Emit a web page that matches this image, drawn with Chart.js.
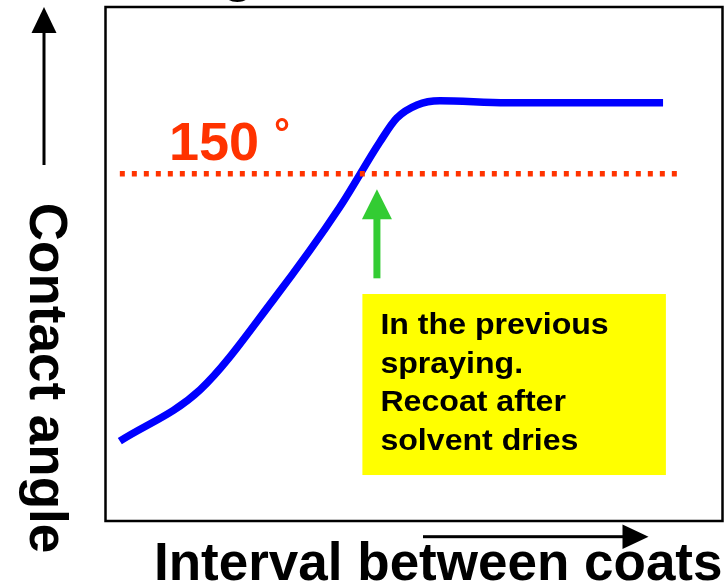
<!DOCTYPE html>
<html lang="en">
<head>
    <meta charset="UTF-8">
    <title>Contact angle vs interval between coats</title>
    <script src="https://cdn.jsdelivr.net/npm/chart.js"></script>
    <style>
        body {
            margin: 0;
            background: #ffffff;
        }
        .chart-box {
            width: 728px;
            height: 587px;
        }
    </style>
</head>
<body>
    <div class="chart-box">
        <canvas id="angleChart" width="728" height="587"></canvas>
    </div>

    <script>
        // Curve (interval in arbitrary units, angle in degrees)
        const intervalX = [0.24, 1.54, 2.72, 3.80, 4.45, 4.72, 5.05, 5.42, 6.50, 9.03];
        const contactAngle = [111.5, 118.9, 131.8, 145.2, 154.6, 158.0, 159.9, 160.5, 160.2, 160.2];

        // 150 degree reference line
        const thresholdX = [0.24, 9.30];
        const thresholdAngle = [150, 150];

        const xRange = [0, 10];
        const yRange = [100, 174];

        const noteLines = ['In the previous', 'spraying.', 'Recoat after', 'solvent dries'];

        const FONT = '"Liberation Sans", Arial, sans-serif';

        function toPoints(xs, ys) {
            return xs.map((x, i) => ({ x: x, y: ys[i] }));
        }

        // frame, arrows, labels and the note box
        const decorations = {
            id: 'decorations',
            afterDraw(chart) {
                const ctx = chart.ctx;
                const area = chart.chartArea;
                const xs = chart.scales.x;
                const ys = chart.scales.y;
                ctx.save();

                // box round the plot
                ctx.strokeStyle = '#000000';
                ctx.lineWidth = 2.5;
                ctx.strokeRect(area.left + 0.5, area.top, area.right - area.left - 1, area.bottom - area.top);

                // green arrow pointing at the crossing
                const ax = xs.getPixelForValue(4.40);
                const tipY = ys.getPixelForValue(147.75);
                const baseY = tipY + 30;
                const tailY = ys.getPixelForValue(134.94);
                ctx.fillStyle = '#33cc33';
                ctx.fillRect(ax - 3.5, baseY - 1, 7, tailY - baseY + 1);
                ctx.beginPath();
                ctx.moveTo(ax, tipY);
                ctx.lineTo(ax - 15, baseY);
                ctx.lineTo(ax + 15, baseY);
                ctx.closePath();
                ctx.fill();

                // yellow note
                const bx1 = xs.getPixelForValue(4.165);
                const bx2 = xs.getPixelForValue(9.076);
                const by1 = ys.getPixelForValue(132.68);
                const by2 = ys.getPixelForValue(106.62);
                ctx.fillStyle = '#ffff00';
                ctx.fillRect(bx1, by1, bx2 - bx1, by2 - by1);
                ctx.fillStyle = '#000000';
                ctx.font = 'bold 30px ' + FONT;
                ctx.textAlign = 'left';
                ctx.textBaseline = 'alphabetic';
                noteLines.forEach((line, i) => {
                    ctx.save();
                    ctx.translate(bx1 + 18, by1 + 40 + i * 38.5);
                    ctx.scale(1.07, 1);
                    ctx.fillText(line, 0, 0);
                    ctx.restore();
                });

                // 150 degree label
                ctx.fillStyle = '#ff3300';
                ctx.font = 'bold 54px ' + FONT;
                ctx.fillText('150', 169, 160);
                ctx.font = 'bold 40px ' + FONT;
                ctx.fillText('°', 274, 147);

                // clipped heading glyph at the very top
                ctx.fillStyle = '#000000';
                ctx.font = 'bold 53px ' + FONT;
                ctx.textAlign = 'center';
                ctx.fillText('g', 238, -9);

                // y axis arrow
                ctx.fillRect(42.5, 32, 3, 133);
                ctx.beginPath();
                ctx.moveTo(44, 7);
                ctx.lineTo(31.5, 33);
                ctx.lineTo(56.5, 33);
                ctx.closePath();
                ctx.fill();

                // x axis arrow
                ctx.fillRect(423, 535.2, 201, 3);
                ctx.beginPath();
                ctx.moveTo(648.5, 536.7);
                ctx.lineTo(622.5, 524.5);
                ctx.lineTo(622.5, 548.9);
                ctx.closePath();
                ctx.fill();

                // axis titles
                ctx.font = 'bold 53px ' + FONT;
                ctx.textAlign = 'left';
                ctx.fillText('Interval between coats', 154, 580);

                ctx.translate(30, 378);
                ctx.rotate(Math.PI / 2);
                ctx.textAlign = 'center';
                ctx.fillText('Contact angle', 0, 0);

                ctx.restore();
            }
        };

        const angleChart = new Chart(
            document.getElementById('angleChart'),
            {
                type: 'line',
                data: {
                    datasets: [
                        {
                            label: '150 °',
                            data: toPoints(thresholdX, thresholdAngle),
                            borderColor: '#ff3300',
                            borderWidth: 5.5,
                            borderDash: [5, 7],
                            pointRadius: 0,
                            tension: 0
                        },
                        {
                            label: 'Contact angle',
                            data: toPoints(intervalX, contactAngle),
                            borderColor: '#0000ff',
                            borderWidth: 7.5,
                            pointRadius: 0,
                            cubicInterpolationMode: 'monotone'
                        }
                    ]
                },
                options: {
                    responsive: false,
                    animation: false,
                    layout: {
                        padding: { left: 105, right: 5, top: 7, bottom: 66 }
                    },
                    scales: {
                        x: { type: 'linear', min: xRange[0], max: xRange[1], display: false },
                        y: { type: 'linear', min: yRange[0], max: yRange[1], display: false }
                    },
                    plugins: {
                        legend: { display: false },
                        tooltip: { enabled: false }
                    }
                },
                plugins: [decorations]
            }
        );
    </script>
</body>
</html>
